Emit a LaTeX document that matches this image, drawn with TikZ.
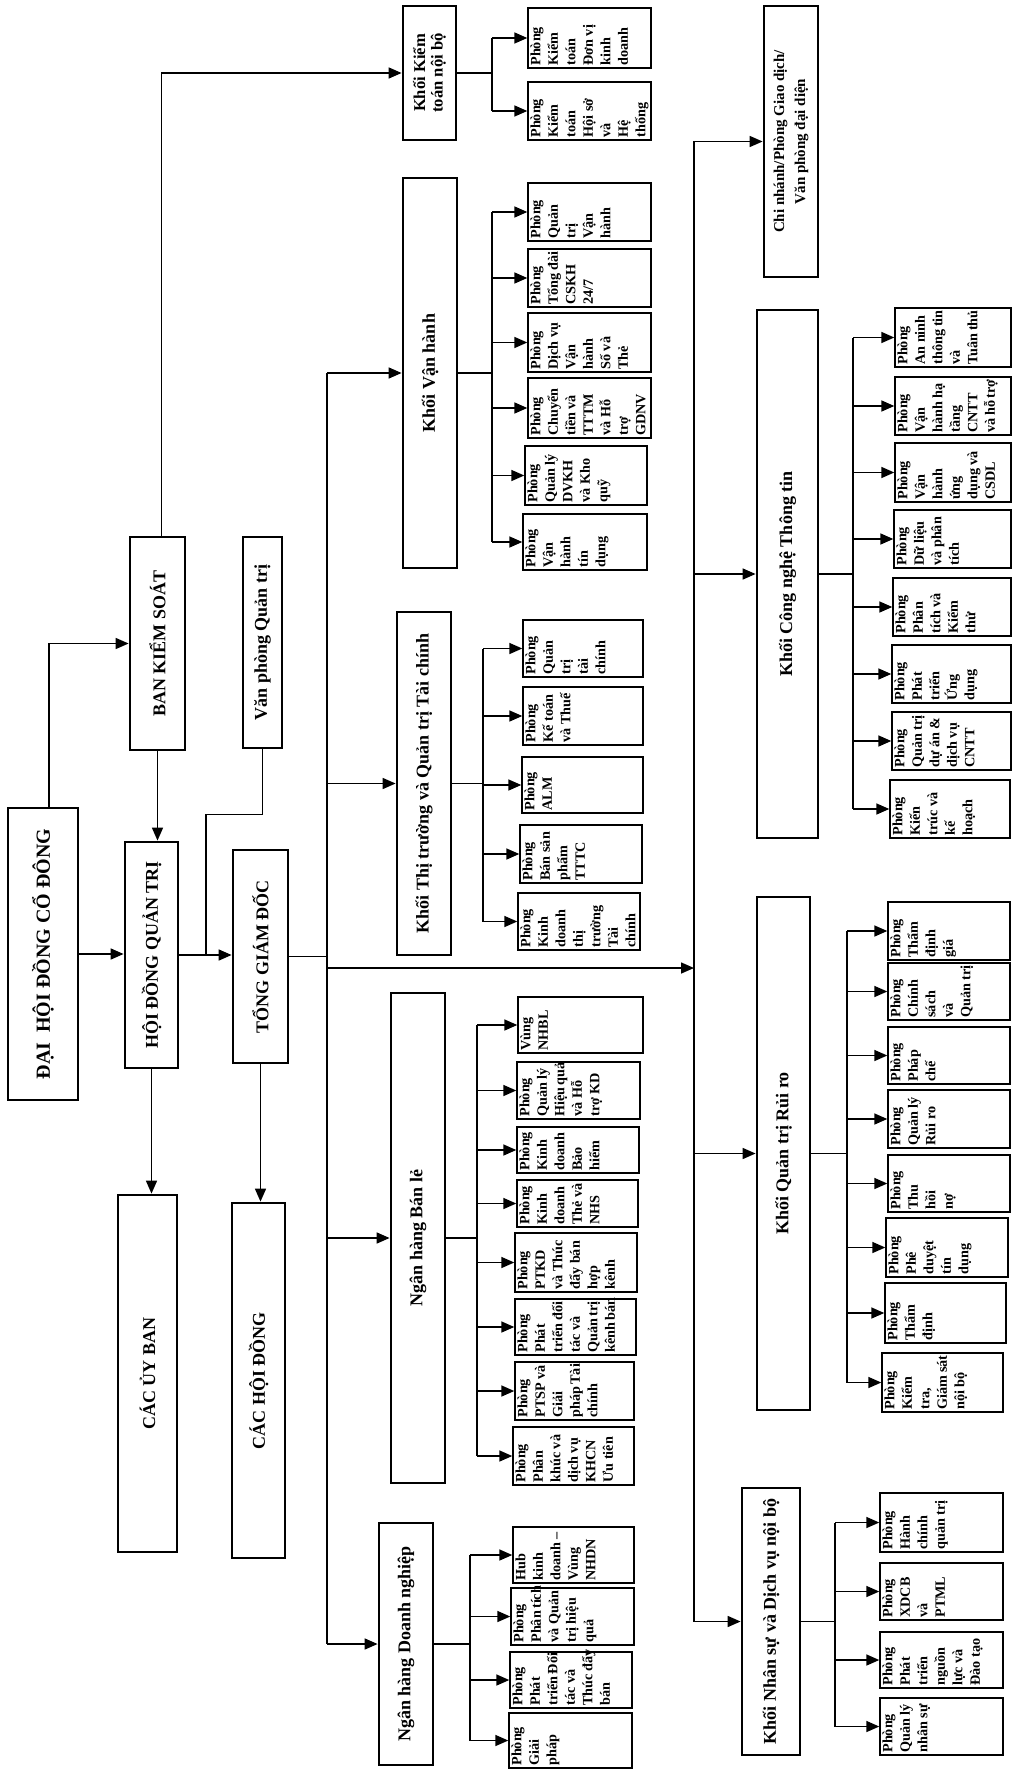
\documentclass[tikz,border=0pt]{standalone}
\usepackage{fontspec}
\setmainfont{Liberation Serif}
\usetikzlibrary{arrows.meta}
\newcommand\fTop{\bfseries\fontsize{10}{12}\selectfont}
\newcommand\fMain{\bfseries\fontsize{9}{11}\selectfont}
\newcommand\fKT{\bfseries\fontsize{8.3}{8.8}\selectfont}
\newcommand\fCN{\bfseries\fontsize{7.5}{10.5}\selectfont}
\newcommand\fSub{\bfseries\fontsize{7.1}{8.75}\selectfont}
\tikzset{
  mainbox/.style={draw, line width=1.4pt, rotate=90, align=center, inner sep=1pt},
  subbox/.style={draw, line width=0.7pt, rotate=90, inner sep=1.2pt, font=\fSub},
  conn/.style={line width=0.8pt},
  arr/.style={line width=0.8pt, -{Triangle[length=6.5pt,width=5.5pt]}}
}
\newcommand\MainBox[7]{%
  \pgfmathsetmacro\BXx{(#2+#4)/2}%
  \pgfmathsetmacro\BXy{(#3+#5)/2}%
  \pgfmathsetmacro\BXw{(#5-#3)*0.5}%
  \pgfmathsetmacro\BXh{(#4-#2)*0.5}%
  \node[mainbox, font=#6, minimum width=\BXw pt, minimum height=\BXh pt] (#1) at (\BXx,\BXy) {#7};}
\newcommand\SubBox[6]{%
  \pgfmathsetmacro\BXx{(#2+#4)/2}%
  \pgfmathsetmacro\BXy{(#3+#5)/2}%
  \pgfmathsetmacro\BXw{(#5-#3)*0.5-2.4}%
  \pgfmathsetmacro\BXh{(#4-#2)*0.5-2.4}%
  \node[subbox] (#1) at (\BXx,\BXy) {\parbox[c][\BXh pt][t]{\BXw pt}{\raggedright #6}};}
\begin{document}
\begin{tikzpicture}[x=0.5pt,y=-0.5pt]
\fill[white] (0,0) rectangle (1014,1771);
\useasboundingbox (0,0) rectangle (1014,1771);

% ---------- main boxes ----------
\MainBox{dhd}{8}{808}{78}{1100}{\fTop}{ĐẠI\ \ HỘI ĐỒNG CỔ ĐÔNG}
\MainBox{hdqt}{125}{842}{178}{1068}{\fMain}{HỘI ĐỒNG QUẢN TRỊ}
\MainBox{tgd}{233}{850}{288}{1063}{\fMain}{TỔNG GIÁM ĐỐC}
\MainBox{bks}{130}{537}{185}{750}{\fMain}{BAN KIỂM SOÁT}
\MainBox{vpqt}{243}{537}{282}{748}{\fMain}{Văn phòng Quản trị}
\MainBox{ub}{118}{1195}{177}{1552}{\fMain}{CÁC ỦY BAN}
\MainBox{hd}{232}{1203}{285}{1558}{\fMain}{CÁC HỘI ĐỒNG}
\MainBox{kt}{403}{6}{456}{140}{\fKT}{Khối Kiểm\\toán nội bộ}
\MainBox{kvh}{403}{178}{457}{568}{\fMain}{Khối Vận hành}
\MainBox{ktt}{397}{612}{451}{955}{\fMain}{Khối Thị trường và Quản trị Tài chính}
\MainBox{nhbl}{391}{993}{445}{1483}{\fMain}{Ngân hàng Bán lẻ}
\MainBox{nhdn}{379}{1523}{433}{1765}{\fMain}{Ngân hàng Doanh nghiệp}
\MainBox{cn}{764}{6}{818}{277}{\fCN}{Chi nhánh/Phòng Giao dịch/\\Văn phòng đại diện}
\MainBox{kcntt}{757}{310}{818}{838}{\fMain}{Khối Công nghệ Thông tin}
\MainBox{krr}{757}{897}{810}{1410}{\fMain}{Khối Quản trị Rủi ro}
\MainBox{kns}{742}{1488}{800}{1755}{\fMain}{Khối Nhân sự và Dịch vụ nội bộ}

% ---------- sub boxes ----------
\SubBox{kt1}{528}{8}{651}{68}{Phòng\\Kiểm\\toán\\Đơn~vị\\kinh\\doanh}
\SubBox{kt2}{528}{82}{651}{140}{Phòng\\Kiểm\\toán\\Hội~sở\\và\\Hệ\\thống}

\SubBox{vh1}{528}{183}{651}{241}{Phòng\\Quản\\trị\\Vận\\hành}
\SubBox{vh2}{528}{249}{651}{307}{Phòng\\Tổng~đài\\CSKH\\24/7}
\SubBox{vh3}{528}{313}{651}{372}{Phòng\\Dịch~vụ\\Vận\\hành\\Số~và\\Thẻ}
\SubBox{vh4}{528}{378}{651}{438}{Phòng\\Chuyển\\tiền~và\\TTTM\\và~Hỗ\\trợ\\GDNV}
\SubBox{vh5}{525}{446}{647}{505}{Phòng\\Quản~lý\\DVKH\\và~Kho\\quỹ}
\SubBox{vh6}{523}{514}{647}{570}{Phòng\\Vận\\hành\\tín\\dụng}

\SubBox{tt1}{523}{620}{643}{677}{Phòng\\Quản\\trị\\tài\\chính}
\SubBox{tt2}{523}{687}{643}{745}{Phòng\\Kế~toán\\và~Thuế}
\SubBox{tt3}{522}{757}{643}{813}{Phòng\\ALM}
\SubBox{tt4}{520}{825}{642}{883}{Phòng\\Bán~sản\\phẩm\\TTTC}
\SubBox{tt5}{518}{893}{640}{950}{Phòng\\Kinh\\doanh\\thị\\trường\\Tài\\chính}

\SubBox{bl1}{518}{997}{643}{1053}{Vùng\\NHBL}
\SubBox{bl2}{517}{1062}{640}{1119}{Phòng\\Quản~lý\\Hiệu~quả\\và~Hỗ\\trợ~KD}
\SubBox{bl3}{517}{1127}{639}{1173}{Phòng\\Kinh\\doanh\\Bảo\\hiểm}
\SubBox{bl4}{517}{1180}{638}{1227}{Phòng\\Kinh\\doanh\\Thẻ~và\\NHS}
\SubBox{bl5}{515}{1233}{637}{1292}{Phòng\\PTKD\\và~Thúc\\đẩy~bán\\hợp\\kênh}
\SubBox{bl6}{515}{1299}{636}{1355}{Phòng\\Phát\\triển~đối\\tác~và\\Quản~trị\\kênh~bán}
\SubBox{bl7}{515}{1362}{634}{1420}{Phòng\\PTSP~và\\Giải\\pháp~Tài\\chính}
\SubBox{bl8}{513}{1427}{634}{1485}{Phòng\\Phân\\khúc~và\\dịch~vụ\\KHCN\\Ưu~tiên}

\SubBox{dn1}{513}{1527}{634}{1583}{Hub\\kinh\\doanh~–\\Vùng\\NHDN}
\SubBox{dn2}{511}{1588}{634}{1645}{Phòng\\Phân~tích\\và~Quản\\trị~hiệu\\quả}
\SubBox{dn3}{510}{1652}{632}{1708}{Phòng\\Phát\\triển~Đối\\tác~và\\Thúc~đẩy\\bán}
\SubBox{dn4}{509}{1713}{632}{1768}{Phòng\\Giải\\pháp}

\SubBox{cn1}{895}{308}{1011}{367}{Phòng\\An~ninh\\thông~tin\\và\\Tuân~thủ}
\SubBox{cn2}{895}{377}{1011}{435}{Phòng\\Vận\\hành~hạ\\tầng\\CNTT\\và~hỗ~trợ}
\SubBox{cn3}{895}{443}{1011}{502}{Phòng\\Vận\\hành\\ứng\\dụng~và\\CSDL}
\SubBox{cn4}{894}{510}{1011}{568}{Phòng\\Dữ~liệu\\và~phân\\tích}
\SubBox{cn5}{893}{578}{1011}{636}{Phòng\\Phân\\tích~và\\Kiểm\\thử}
\SubBox{cn6}{892}{645}{1011}{703}{Phòng\\Phát\\triển\\Ứng\\dụng}
\SubBox{cn7}{892}{712}{1011}{770}{Phòng\\Quản~trị\\dự~án~\&\\dịch~vụ\\CNTT}
\SubBox{cn8}{890}{780}{1010}{838}{Phòng\\Kiến\\trúc~và\\kế\\hoạch}

\SubBox{rr1}{888}{902}{1010}{960}{Phòng\\Thẩm\\định\\giá}
\SubBox{rr2}{888}{963}{1010}{1020}{Phòng\\Chính\\sách\\và\\Quản~trị}
\SubBox{rr3}{888}{1027}{1010}{1084}{Phòng\\Pháp\\chế}
\SubBox{rr4}{888}{1090}{1010}{1148}{Phòng\\Quản~lý\\Rủi~ro}
\SubBox{rr5}{888}{1155}{1010}{1212}{Phòng\\Thu\\hồi\\nợ}
\SubBox{rr6}{886}{1218}{1008}{1277}{Phòng\\Phê\\duyệt\\tín\\dụng}
\SubBox{rr7}{885}{1283}{1006}{1343}{Phòng\\Thẩm\\định}
\SubBox{rr8}{882}{1353}{1003}{1412}{Phòng\\Kiểm\\tra,\\Giám~sát\\nội~bộ}

\SubBox{ns1}{880}{1493}{1003}{1552}{Phòng\\Hành\\chính\\quản~trị}
\SubBox{ns2}{880}{1563}{1003}{1620}{Phòng\\XDCB\\và\\PTML}
\SubBox{ns3}{880}{1632}{1003}{1688}{Phòng\\Phát\\triển\\nguồn\\lực~và\\Đào~tạo}
\SubBox{ns4}{880}{1698}{1003}{1755}{Phòng\\Quản~lý\\nhân~sự}

% ---------- top-level connectors ----------
\draw[arr] (dhd.south) -- (dhd.south -| hdqt.north);
\draw[arr] (hdqt.south) -- (hdqt.south -| tgd.north);
\coordinate (j1) at (206,955);
\draw[conn] (vpqt.west) -- ++(0,65) -| (j1);
\draw[arr] ([xshift=3pt]dhd.east) |- (bks.north);
\draw[arr] (bks.west) -- (bks.west |- hdqt.east);
\draw[arr] ([xshift=2pt]bks.east) |- (kt.north);
\draw[arr] (hdqt.west) -- (hdqt.west |- ub.east);
\draw[arr] (tgd.west) -- (tgd.west |- hd.east);

% ---------- trunks ----------
\coordinate (lt) at (327,0);
\coordinate (rt) at (694,0);
\draw[conn] (tgd.south) -- (tgd.south -| lt);
\draw[conn] (kvh.north -| lt) -- (nhdn.north -| lt);
\foreach \n in {kvh,ktt,nhbl,nhdn} \draw[arr] (\n.north -| lt) -- (\n.north);
\coordinate (lx) at (327,968);
\draw[arr] (lx) -- (lx -| rt);
\draw[conn] (cn.north -| rt) -- (kns.north -| rt);
\foreach \n in {cn,kcntt,krr,kns} \draw[arr] (\n.north -| rt) -- (\n.north);

% ---------- group buses ----------
\coordinate (bkt) at (492,0);
\draw[conn] (kt.south) -- (kt.south -| bkt);
\draw[conn] (kt1.north -| bkt) -- (kt2.north -| bkt);
\foreach \c in {kt1,kt2} \draw[arr] (\c.north -| bkt) -- (\c.north);

\coordinate (bvh) at (492,0);
\draw[conn] (kvh.south) -- (kvh.south -| bvh);
\draw[conn] (vh1.north -| bvh) -- (vh6.north -| bvh);
\foreach \c in {vh1,vh2,vh3,vh4,vh5,vh6} \draw[arr] (\c.north -| bvh) -- (\c.north);

\coordinate (btt) at (483,0);
\draw[conn] (ktt.south) -- (ktt.south -| btt);
\draw[conn] (tt1.north -| btt) -- (tt5.north -| btt);
\foreach \c in {tt1,tt2,tt3,tt4,tt5} \draw[arr] (\c.north -| btt) -- (\c.north);

\coordinate (bbl) at (477,0);
\draw[conn] (nhbl.south) -- (nhbl.south -| bbl);
\draw[conn] (bl1.north -| bbl) -- (bl8.north -| bbl);
\foreach \c in {bl1,bl2,bl3,bl4,bl5,bl6,bl7,bl8} \draw[arr] (\c.north -| bbl) -- (\c.north);

\coordinate (bdn) at (470,0);
\draw[conn] (nhdn.south) -- (nhdn.south -| bdn);
\draw[conn] (dn1.north -| bdn) -- (dn4.north -| bdn);
\foreach \c in {dn1,dn2,dn3,dn4} \draw[arr] (\c.north -| bdn) -- (\c.north);

\coordinate (bcn) at (853,0);
\draw[conn] (kcntt.south) -- (kcntt.south -| bcn);
\draw[conn] (cn1.north -| bcn) -- (cn8.north -| bcn);
\foreach \c in {cn1,cn2,cn3,cn4,cn5,cn6,cn7,cn8} \draw[arr] (\c.north -| bcn) -- (\c.north);

\coordinate (brr) at (847,0);
\draw[conn] (krr.south) -- (krr.south -| brr);
\draw[conn] (rr1.north -| brr) -- (rr8.north -| brr);
\foreach \c in {rr1,rr2,rr3,rr4,rr5,rr6,rr7,rr8} \draw[arr] (\c.north -| brr) -- (\c.north);

\coordinate (bns) at (835,0);
\draw[conn] (kns.south) -- (kns.south -| bns);
\draw[conn] (ns1.north -| bns) -- (ns4.north -| bns);
\foreach \c in {ns1,ns2,ns3,ns4} \draw[arr] (\c.north -| bns) -- (\c.north);
\end{tikzpicture}
\end{document}
